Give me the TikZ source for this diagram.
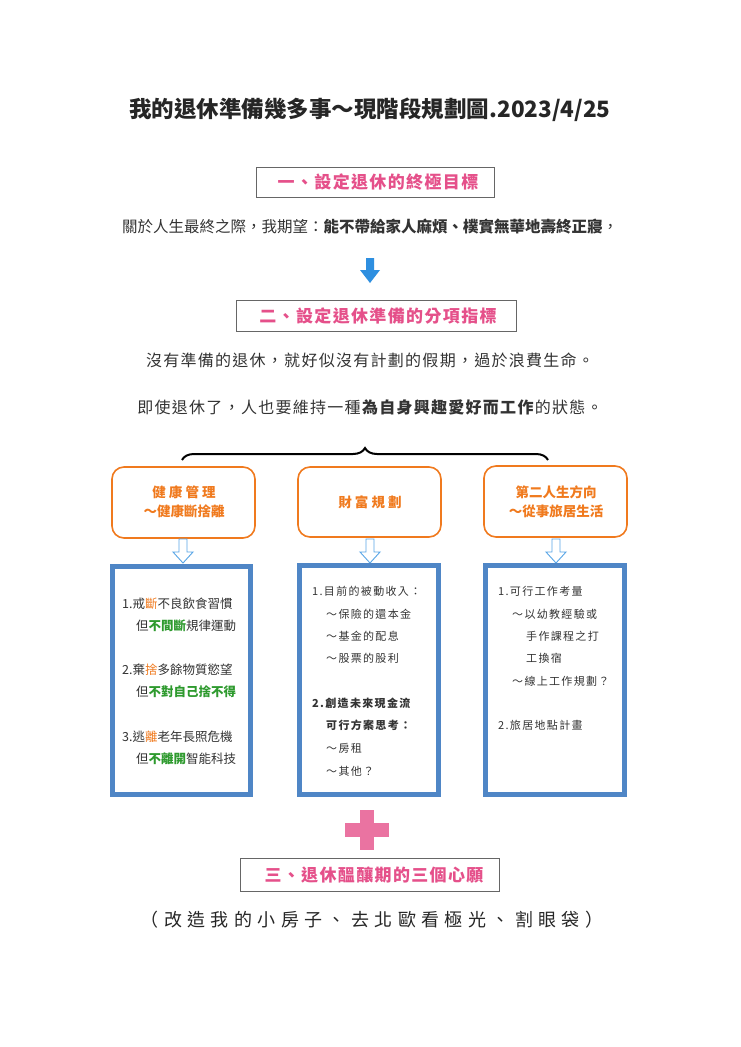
\documentclass[tikz,border=0pt]{standalone}
\usepackage{fontspec}
\setmainfont{Noto Sans CJK TC}
\usetikzlibrary{decorations.pathreplacing,arrows.meta}
\definecolor{pinkt}{HTML}{E5508A}
\definecolor{orng}{HTML}{F07A1E}
\definecolor{bluef}{HTML}{4F86C6}
\definecolor{arrb}{HTML}{2E8FE0}
\definecolor{grn}{HTML}{2E9A2E}
\definecolor{txt}{HTML}{333333}
\begin{document}
\begin{tikzpicture}[x=1pt,y=-1pt,
 secbox/.style={inner sep=0pt,text=pinkt,font=\fontsize{17}{17}\selectfont\bfseries\addfontfeature{LetterSpace=8}},
 obox/.style={draw=orng,line width=1.6pt,rounded corners=12pt,fill=white},
 bbox/.style={draw=bluef,line width=5pt,fill=white},
 hol/.style={draw=arrb!80,line width=0.9pt,fill=white},
 btxt/.style={anchor=west,inner sep=0pt,text=txt,font=\fontsize{12.5}{12.5}\selectfont},
 ttl/.style={text=orng,font=\fontsize{13.5}{13.5}\selectfont\bfseries,align=center}]
\useasboundingbox[fill=white] (0,0) rectangle (740,1047);
\node[font=\fontsize{22.5}{22.5}\selectfont\bfseries,text=black!85] (title) at (370,110) {我的退休準備幾多事～現階段規劃圖.2023/4/25};
\draw[gray!80!black,line width=0.8pt] (256,167) rectangle (494,197);
\node[secbox] (s1) at (378,182) {一、設定退休的終極目標};
\node[text=txt,font=\fontsize{15.5}{15.5}\selectfont] (l1) at (370,227) {關於人生最終之際，我期望：\textbf{能不帶給家人麻煩、樸實無華地壽終正寢}，};
\fill[arrb] (366,258) -- (374,258) -- (374,270) -- (380,270) -- (370,283) -- (360,270) -- (366,270) -- cycle;
\draw[gray!80!black,line width=0.8pt] (236,300) rectangle (516,331);
\node[secbox] (s2) at (378,316) {二、設定退休準備的分項指標};
\node[text=txt,font=\fontsize{16}{16}\selectfont\addfontfeature{LetterSpace=8}] (l2) at (370,360) {沒有準備的退休，就好似沒有計劃的假期，過於浪費生命。};
\node[text=txt,font=\fontsize{16}{16}\selectfont\addfontfeature{LetterSpace=8}] (l3) at (370,407) {即使退休了，人也要維持一種\textbf{為自身興趣愛好而工作}的狀態。};
\draw[line width=2pt,decorate,decoration={brace,amplitude=12pt}] (182,460) -- (548,460);
\draw[obox] (112,467) rectangle (255,538);
\draw[obox] (298,467) rectangle (441,537);
\draw[obox] (484,466) rectangle (627,537);
\node[ttl] (t1) at (184,502) {健 康 管 理\\[5pt]～健康斷捨離};
\node[ttl] (t2) at (370,502) {財 富 規 劃};
\node[ttl] (t3) at (556,502) {第二人生方向\\[5pt]～從事旅居生活};
\foreach \x in {183,370,556}{
 \draw[hol] (\x-4,539) -- (\x+4,539) -- (\x+4,552) -- (\x+10,552) -- (\x,563) -- (\x-10,552) -- (\x-4,552) -- cycle;}
\draw[bbox] (112.5,566.5) rectangle (250.5,794.5);
\draw[bbox] (299.5,565.5) rectangle (438.5,794.5);
\draw[bbox] (485.5,565.5) rectangle (624.5,794.5);
\node[btxt] (b11) at (122,604) {1.戒\textcolor{orng}{斷}不良飲食習慣};
\node[btxt] (b12) at (136,626) {但\textcolor{grn}{\bfseries 不間斷}規律運動};
\node[btxt] (b13) at (122,670) {2.棄\textcolor{orng}{捨}多餘物質慾望};
\node[btxt] (b14) at (136,692) {但\textcolor{grn}{\bfseries 不對自己捨不得}};
\node[btxt] (b15) at (122,737) {3.逃\textcolor{orng}{離}老年長照危機};
\node[btxt] (b16) at (136,759) {但\textcolor{grn}{\bfseries 不離開}智能科技};
\begin{scope}[btxt/.append style={font=\fontsize{11}{11}\selectfont\addfontfeature{LetterSpace=12}}]
\node[btxt] (b21) at (312,591) {1.目前的被動收入：};
\node[btxt] (b22) at (326,614) {～保險的還本金};
\node[btxt] (b23) at (326,636) {～基金的配息};
\node[btxt] (b24) at (326,658) {～股票的股利};
\node[btxt] (b25) at (312,703) {\bfseries 2.創造未來現金流};
\node[btxt] (b26) at (326,725) {\bfseries 可行方案思考：};
\node[btxt] (b27) at (326,748) {～房租};
\node[btxt] (b28) at (326,771) {～其他？};
\node[btxt] (b31) at (498,591) {1.可行工作考量};
\node[btxt] (b32) at (512,614) {～以幼教經驗或};
\node[btxt] (b33) at (526,636) {手作課程之打};
\node[btxt] (b34) at (526,658) {工換宿};
\node[btxt] (b35) at (512,681) {～線上工作規劃？};
\node[btxt] (b36) at (498,725) {2.旅居地點計畫};
\end{scope}
\fill[pinkt!80] (360,810) rectangle (374,850);
\fill[pinkt!80] (345,823) rectangle (389,837);
\draw[gray!80!black,line width=0.8pt] (240,858) rectangle (499,891);
\node[secbox] (s3) at (374,875) {三、退休醞釀期的三個心願};
\node[text=black!85,font=\fontsize{18}{18}\selectfont\addfontfeature{LetterSpace=30}] (l4) at (372,920) {（改造我的小房子、去北歐看極光、割眼袋）};
\end{tikzpicture}
\end{document}
